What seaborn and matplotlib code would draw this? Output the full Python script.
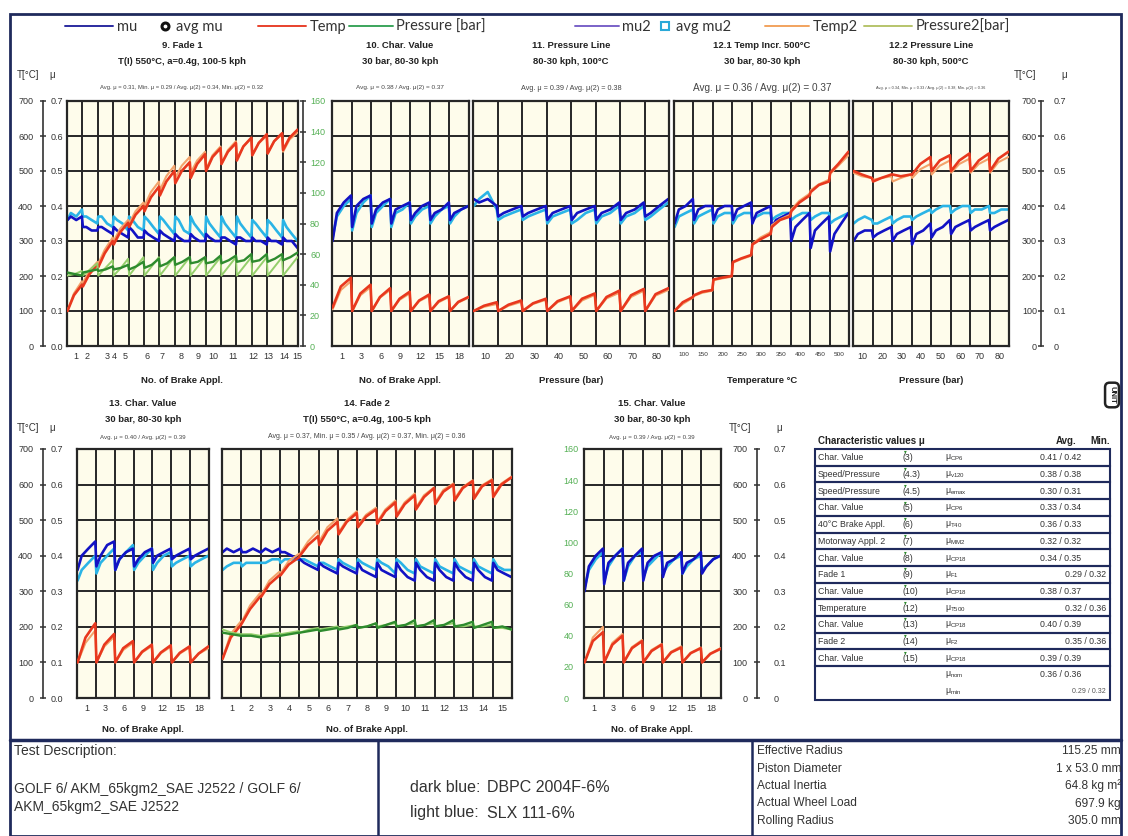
import numpy as np
import pandas as pd
import matplotlib
matplotlib.use("Agg")
import matplotlib.pyplot as plt
import seaborn as sns
from matplotlib.lines import Line2D
from matplotlib.patches import Rectangle

# ---------------------------------------------------------------- data
legend_labels = ["mu", "avg mu", "Temp", "Pressure [bar]", "mu2", "avg mu2", "Temp2", "Pressure2[bar]"]

# sample positions inside one brake application (fraction of the column)
MU_FR = [0.03, 0.25, 0.6, 0.97]
T_FR = [0.03, 0.45, 0.97]
P_FR = [0.03, 0.5, 0.97]

# 9. Fade 1 (15 applications)
fade1_mu = [[0.36, 0.37, 0.36, 0.37], [0.34, 0.34, 0.33, 0.33], [0.34, 0.34, 0.33, 0.32],
            [0.34, 0.33, 0.32, 0.31], [0.34, 0.33, 0.31, 0.31], [0.33, 0.32, 0.31, 0.30],
            [0.33, 0.32, 0.31, 0.30], [0.32, 0.31, 0.30, 0.30], [0.32, 0.31, 0.30, 0.30],
            [0.32, 0.31, 0.30, 0.30], [0.31, 0.31, 0.30, 0.29], [0.31, 0.31, 0.30, 0.30],
            [0.31, 0.30, 0.30, 0.29], [0.31, 0.30, 0.30, 0.29], [0.31, 0.30, 0.30, 0.28]]
fade1_mu2 = [[0.36, 0.38, 0.37, 0.39], [0.37, 0.37, 0.36, 0.35], [0.37, 0.37, 0.35, 0.34],
             [0.37, 0.36, 0.35, 0.33], [0.37, 0.36, 0.34, 0.33], [0.37, 0.36, 0.34, 0.32],
             [0.37, 0.36, 0.34, 0.32], [0.37, 0.36, 0.33, 0.32], [0.37, 0.35, 0.33, 0.31],
             [0.37, 0.35, 0.33, 0.31], [0.37, 0.35, 0.33, 0.31], [0.37, 0.35, 0.33, 0.31],
             [0.36, 0.35, 0.33, 0.31], [0.36, 0.35, 0.33, 0.31], [0.36, 0.34, 0.32, 0.30]]
fade1_t = [[100, 145, 175], [170, 205, 232], [225, 265, 300], [290, 325, 352], [340, 375, 400],
           [385, 425, 455], [430, 470, 500], [465, 500, 525], [480, 520, 548], [500, 540, 565],
           [520, 555, 580], [530, 570, 595], [545, 580, 605], [550, 585, 608], [560, 595, 618]]
fade1_t2 = [[100, 150, 185], [180, 215, 240], [235, 275, 310], [300, 335, 360], [350, 385, 410],
            [400, 440, 470], [445, 485, 515], [480, 515, 540], [495, 530, 555], [505, 545, 570],
            [520, 560, 585], [535, 570, 595], [545, 580, 600], [550, 585, 605], [555, 590, 610]]
fade1_p = [[48, 47, 46], [48, 49, 50], [49, 50, 52], [50, 51, 53], [50, 52, 55], [51, 53, 57],
           [52, 54, 58], [53, 55, 58], [54, 55, 58], [54, 55, 59], [54, 56, 59], [55, 56, 60],
           [55, 56, 60], [55, 57, 60], [56, 58, 61]]
fade1_p2 = [[46, 47, 49], [46, 50, 54], [46, 51, 56], [46, 51, 57], [46, 52, 58], [46, 52, 58],
            [46, 52, 58], [46, 52, 58], [46, 52, 58], [46, 52, 58], [46, 52, 58], [46, 52, 58],
            [46, 52, 58], [46, 52, 58], [46, 52, 58]]

# 10. Char. Value (7 groups)
cv10_mu = [[0.30, 0.38, 0.41, 0.43], [0.34, 0.40, 0.42, 0.43], [0.35, 0.39, 0.41, 0.42],
           [0.35, 0.39, 0.40, 0.41], [0.36, 0.38, 0.40, 0.41], [0.36, 0.38, 0.39, 0.41],
           [0.36, 0.38, 0.39, 0.40]]
cv10_mu2 = [[0.31, 0.37, 0.40, 0.42], [0.33, 0.38, 0.41, 0.43], [0.34, 0.38, 0.40, 0.42],
            [0.34, 0.38, 0.39, 0.41], [0.35, 0.37, 0.39, 0.40], [0.35, 0.37, 0.39, 0.40],
            [0.35, 0.37, 0.39, 0.40]]
cv10_t = [[110, 170, 195], [100, 150, 175], [100, 140, 165], [100, 135, 155], [100, 130, 147],
          [100, 128, 142], [100, 126, 140]]
cv10_t2 = [[105, 160, 185], [100, 145, 168], [100, 138, 160], [100, 132, 150], [100, 128, 143],
           [100, 125, 140], [100, 124, 138]]

# 11. Pressure Line (8 groups)
pl11_mu = [[0.42, 0.41, 0.42, 0.40], [0.37, 0.38, 0.39, 0.40], [0.37, 0.38, 0.39, 0.40],
           [0.36, 0.38, 0.39, 0.40], [0.36, 0.38, 0.39, 0.40], [0.36, 0.38, 0.39, 0.41],
           [0.36, 0.38, 0.39, 0.41], [0.37, 0.38, 0.40, 0.42]]
pl11_mu2 = [[0.40, 0.42, 0.44, 0.39], [0.36, 0.37, 0.38, 0.39], [0.36, 0.37, 0.38, 0.39],
            [0.35, 0.37, 0.38, 0.39], [0.35, 0.36, 0.38, 0.39], [0.35, 0.37, 0.38, 0.40],
            [0.35, 0.37, 0.38, 0.40], [0.36, 0.37, 0.39, 0.41]]
pl11_t = [[100, 115, 125], [100, 118, 130], [100, 122, 135], [100, 128, 142], [100, 135, 150],
          [100, 140, 158], [100, 145, 163], [100, 148, 165]]
pl11_t2 = [[100, 112, 120], [100, 115, 126], [100, 120, 132], [100, 125, 140], [100, 130, 146],
           [100, 136, 152], [100, 140, 158], [100, 144, 160]]

# 12.1 Temp Incr. (9 groups)
ti_mu = [[0.35, 0.39, 0.40, 0.42], [0.36, 0.39, 0.40, 0.40], [0.36, 0.39, 0.40, 0.40],
         [0.36, 0.39, 0.40, 0.41], [0.35, 0.38, 0.39, 0.40], [0.34, 0.36, 0.37, 0.38],
         [0.30, 0.34, 0.36, 0.38], [0.28, 0.33, 0.35, 0.37], [0.27, 0.32, 0.35, 0.38]]
ti_mu2 = [[0.34, 0.37, 0.38, 0.39], [0.35, 0.37, 0.38, 0.39], [0.35, 0.37, 0.38, 0.38],
          [0.35, 0.37, 0.38, 0.38], [0.36, 0.37, 0.38, 0.38], [0.36, 0.37, 0.38, 0.38],
          [0.36, 0.37, 0.38, 0.38], [0.36, 0.37, 0.38, 0.38], [0.35, 0.36, 0.37, 0.38]]
ti_t = [[100, 125, 140], [145, 155, 160], [190, 195, 200], [240, 250, 260], [290, 305, 320],
        [340, 360, 370], [385, 410, 430], [440, 460, 470], [495, 520, 555]]
ti_t2 = [[100, 120, 138], [143, 152, 158], [188, 193, 198], [238, 248, 258], [292, 310, 325],
         [345, 362, 375], [390, 415, 435], [445, 462, 475], [492, 515, 545]]

# 12.2 Pressure Line (8 groups)
pl122_mu = [[0.30, 0.32, 0.33, 0.33], [0.31, 0.32, 0.33, 0.34], [0.30, 0.32, 0.33, 0.34],
            [0.29, 0.32, 0.33, 0.35], [0.31, 0.33, 0.34, 0.36], [0.32, 0.34, 0.35, 0.36],
            [0.33, 0.34, 0.35, 0.36], [0.33, 0.34, 0.35, 0.36]]
pl122_mu2 = [[0.35, 0.36, 0.37, 0.36], [0.35, 0.35, 0.36, 0.37], [0.35, 0.36, 0.37, 0.37],
             [0.36, 0.37, 0.38, 0.39], [0.38, 0.39, 0.40, 0.40], [0.38, 0.39, 0.40, 0.40],
             [0.38, 0.39, 0.39, 0.40], [0.38, 0.38, 0.39, 0.39]]
pl122_t = [[500, 490, 480], [470, 480, 490], [490, 485, 490], [490, 520, 540], [500, 530, 545],
           [500, 530, 550], [500, 530, 550], [500, 535, 555]]
pl122_t2 = [[495, 485, 480], [475, 480, 485], [470, 480, 490], [480, 505, 520], [490, 515, 530],
            [495, 520, 535], [495, 520, 535], [495, 525, 540]]

# 13. Char. Value (7 groups)
cv13_mu = [[0.36, 0.40, 0.42, 0.44], [0.37, 0.40, 0.43, 0.44], [0.36, 0.39, 0.41, 0.42],
           [0.37, 0.39, 0.41, 0.42], [0.38, 0.40, 0.41, 0.42], [0.39, 0.40, 0.41, 0.42],
           [0.39, 0.40, 0.41, 0.42]]
cv13_mu2 = [[0.33, 0.36, 0.38, 0.40], [0.35, 0.38, 0.40, 0.42], [0.36, 0.39, 0.41, 0.43],
            [0.36, 0.38, 0.40, 0.42], [0.36, 0.38, 0.40, 0.41], [0.37, 0.38, 0.39, 0.40],
            [0.37, 0.38, 0.39, 0.40]]
cv13_t = [[100, 170, 210], [100, 150, 180], [100, 140, 160], [100, 130, 150], [100, 128, 148],
          [100, 127, 145], [100, 125, 145]]
cv13_t2 = [[100, 155, 190], [100, 145, 172], [100, 135, 155], [100, 128, 146], [100, 126, 144],
           [100, 125, 142], [100, 124, 140]]

# 14. Fade 2 (15 applications)
fade2_mu = [[0.41, 0.42, 0.41, 0.42], [0.41, 0.41, 0.42, 0.41], [0.41, 0.42, 0.41, 0.42],
            [0.41, 0.41, 0.40, 0.39], [0.39, 0.38, 0.37, 0.36], [0.38, 0.37, 0.36, 0.35],
            [0.38, 0.37, 0.36, 0.35], [0.38, 0.36, 0.35, 0.34], [0.38, 0.36, 0.35, 0.34],
            [0.38, 0.36, 0.34, 0.33], [0.38, 0.36, 0.34, 0.33], [0.38, 0.36, 0.34, 0.33],
            [0.38, 0.36, 0.34, 0.33], [0.38, 0.36, 0.34, 0.33], [0.38, 0.36, 0.35, 0.34]]
fade2_mu2 = [[0.36, 0.37, 0.38, 0.38], [0.37, 0.38, 0.38, 0.38], [0.38, 0.38, 0.39, 0.39],
             [0.38, 0.39, 0.39, 0.39], [0.39, 0.39, 0.38, 0.37], [0.38, 0.38, 0.37, 0.36],
             [0.39, 0.38, 0.37, 0.36], [0.39, 0.38, 0.37, 0.36], [0.39, 0.38, 0.37, 0.35],
             [0.39, 0.38, 0.36, 0.35], [0.39, 0.37, 0.36, 0.35], [0.39, 0.37, 0.36, 0.35],
             [0.39, 0.37, 0.36, 0.35], [0.39, 0.37, 0.36, 0.35], [0.39, 0.37, 0.36, 0.36]]
fade2_t = [[110, 170, 205], [210, 250, 285], [285, 320, 345], [345, 375, 395], [400, 430, 455],
           [430, 470, 495], [460, 495, 520], [480, 510, 530], [490, 525, 550], [510, 545, 570],
           [530, 565, 590], [545, 580, 600], [555, 590, 610], [560, 595, 612], [565, 600, 620]]
fade2_t2 = [[110, 180, 215], [215, 260, 295], [290, 330, 355], [350, 385, 405], [405, 440, 470],
            [440, 480, 505], [465, 500, 525], [485, 515, 535], [495, 530, 555], [515, 550, 575],
            [535, 570, 592], [550, 585, 603], [560, 593, 612], [565, 598, 615], [570, 603, 622]]
fade2_p = [[42, 41, 40], [40, 40, 39], [39, 40, 40], [40, 41, 42], [42, 43, 44], [43, 44, 45],
           [44, 45, 47], [45, 46, 48], [45, 47, 49], [46, 47, 50], [46, 47, 50], [46, 47, 50],
           [46, 47, 49], [45, 47, 49], [45, 46, 44]]
fade2_p2 = [[44, 42, 41], [41, 41, 40], [40, 41, 42], [41, 42, 43], [42, 44, 45], [44, 45, 46],
            [45, 46, 47], [45, 46, 48], [46, 47, 48], [46, 47, 48], [46, 47, 48], [46, 47, 48],
            [46, 46, 47], [46, 46, 47], [45, 45, 44]]

# 15. Char. Value (7 groups)
cv15_mu = [[0.30, 0.37, 0.40, 0.42], [0.32, 0.38, 0.40, 0.42], [0.33, 0.38, 0.40, 0.42],
           [0.33, 0.38, 0.40, 0.41], [0.34, 0.38, 0.39, 0.41], [0.35, 0.38, 0.39, 0.41],
           [0.35, 0.37, 0.39, 0.40]]
cv15_mu2 = [[0.31, 0.36, 0.39, 0.41], [0.33, 0.37, 0.40, 0.42], [0.33, 0.37, 0.40, 0.41],
            [0.34, 0.37, 0.39, 0.41], [0.35, 0.37, 0.39, 0.40], [0.35, 0.37, 0.39, 0.40],
            [0.36, 0.37, 0.39, 0.40]]
cv15_t = [[100, 160, 185], [100, 150, 175], [100, 140, 160], [100, 132, 150], [100, 128, 142],
          [100, 126, 140], [100, 124, 138]]
cv15_t2 = [[100, 170, 200], [100, 155, 180], [100, 143, 163], [100, 135, 152], [100, 130, 145],
           [100, 127, 142], [100, 125, 140]]

# tick labels
fade_labels = ["1", "2", "3", "4", "5", "6", "7", "8", "9", "10", "11", "12", "13", "14", "15"]
appl_labels = ["1", "3", "6", "9", "12", "15", "18"]
press_labels = ["10", "20", "30", "40", "50", "60", "70", "80"]
temp_labels = ["100", "150", "200", "250", "300", "350", "400", "450", "500"]
mu_ticks = [0.0, 0.1, 0.2, 0.3, 0.4, 0.5, 0.6, 0.7]
mu_labels_l = ["0.0", "0.1", "0.2", "0.3", "0.4", "0.5", "0.6", "0.7"]
mu_labels_r = ["0", "0.1", "0.2", "0.3", "0.4", "0.5", "0.6", "0.7"]
t_ticks = [0, 100, 200, 300, 400, 500, 600, 700]
t_labels = ["0", "100", "200", "300", "400", "500", "600", "700"]
p_ticks = [0, 20, 40, 60, 80, 100, 120, 140, 160]
p_labels = ["0", "20", "40", "60", "80", "100", "120", "140", "160"]

# characteristic values table
tab_names = ["Char. Value", "Speed/Pressure", "Speed/Pressure", "Char. Value", "40°C Brake Appl.",
             "Motorway Appl. 2", "Char. Value", "Fade 1", "Char. Value", "Temperature",
             "Char. Value", "Fade 2", "Char. Value"]
tab_refs = ["(3)", "(4.3)", "(4.5)", "(5)", "(6)", "(7)", "(8)", "(9)", "(10)", "(12)", "(13)", "(14)", "(15)"]
tab_subs = ["CP6", "v120", "emax", "CP6", "T40", "MM2", "CP18", "F1", "CP18", "T500", "CP18", "F2", "CP18"]
tab_avg = [0.41, 0.38, 0.30, 0.33, 0.36, 0.32, 0.34, 0.29, 0.38, 0.32, 0.40, 0.35, 0.39]
tab_min = [0.42, 0.38, 0.31, 0.34, 0.33, 0.32, 0.35, 0.32, 0.37, 0.36, 0.39, 0.36, 0.39]
tab_right = [False, False, False, False, False, False, False, True, False, True, False, True, False]
mu_nom = [0.36, 0.36]
mu_min = [0.29, 0.32]

spec_names = ["Effective Radius", "Piston Diameter", "Actual Inertia", "Actual Wheel Load", "Rolling Radius"]
spec_values = ["115.25 mm", "1 x 53.0 mm", "64.8 kg m²", "697.9 kg", "305.0 mm"]

# ---------------------------------------------------------------- style
sns.set_style("white")
plt.rcParams["font.family"] = ["Liberation Sans", "DejaVu Sans"]
plt.rcParams["mathtext.fontset"] = "custom"
plt.rcParams["mathtext.rm"] = "Liberation Sans"
plt.rcParams["mathtext.it"] = "Liberation Sans"

C_MU = "#1212C4"
C_MU2 = "#2AB4E6"
C_T = "#E8381E"
C_T2 = "#F3A36B"
C_P = "#2E8B2E"
C_P2 = "#95CF6C"
C_GREEN_LBL = "#55B055"
NAVY = "#1F2A5C"
GRID = "#262626"
BG = "#FEFCEB"

W, H = 1128, 836
fig = plt.figure(figsize=(W / 100, H / 100), dpi=100)
fig.patch.set_facecolor("white")


def ftext(x, y, s, **kw):
    kw.setdefault("va", "center")
    return fig.text(x / W, 1 - y / H, s, **kw)


def cycles_df(cycles, fracs):
    rows = []
    for i, cyc in enumerate(cycles):
        for f, v in zip(fracs, cyc):
            rows.append((i + f, v))
    return pd.DataFrame(rows, columns=["x", "v"])


def draw(ax, cycles, fracs, color, lw=1.9):
    sns.lineplot(data=cycles_df(cycles, fracs), x="x", y="v", ax=ax, color=color,
                 lw=lw, estimator=None, sort=False)
    ax.set_xlabel("")
    ax.set_ylabel("")


def panel(box, ncols, tick_pos, tick_labels, tick_fs=6.5, mu_pad=None):
    x0, y0, x1, y1 = box
    ax = fig.add_axes([x0 / W, 1 - y1 / H, (x1 - x0) / W, (y1 - y0) / H])
    ax.set_facecolor(BG)
    ax.set_xlim(0, ncols)
    ax.set_ylim(0, 0.7)
    ax.set_xticks(list(range(ncols + 1)), minor=True)
    ax.set_xticks(tick_pos)
    ax.set_xticklabels(tick_labels, fontsize=tick_fs, color="#333333")
    ax.set_yticks(mu_ticks)
    ax.grid(False)
    ax.grid(which="minor", axis="x", color=GRID, lw=1.4)
    ax.grid(which="major", axis="y", color=GRID, lw=1.4)
    ax.tick_params(axis="x", which="both", length=0, pad=4)
    ax.tick_params(axis="y", length=0)
    if mu_pad is None:
        ax.set_yticklabels([])
    else:
        ax.set_yticklabels(mu_labels_l, fontsize=6.5, color="#333333")
        ax.tick_params(axis="y", pad=mu_pad)
    for s in ax.spines.values():
        s.set_visible(True)
        s.set_color(GRID)
        s.set_linewidth(1.6)
    return ax


def twin(ax, top):
    t = ax.twinx()
    t.set_ylim(0, top)
    t.set_axis_off()
    return t


def strip(xpx, y0, y1, top, ticks, labels, side, spine=True, pad=4, color="#333333", fs=6.5):
    a = fig.add_axes([xpx / W, 1 - y1 / H, 0.0001, (y1 - y0) / H])
    a.set_ylim(0, top)
    a.set_xticks([])
    a.patch.set_alpha(0)
    for s in a.spines.values():
        s.set_visible(False)
    if side == "left":
        a.yaxis.tick_left()
    else:
        a.yaxis.tick_right()
    a.set_yticks(ticks)
    a.set_yticklabels(labels, fontsize=fs)
    if spine:
        a.spines[side].set_visible(True)
        a.spines[side].set_color("#333333")
        a.spines[side].set_linewidth(1.2)
        a.tick_params(axis="y", direction="inout", length=4, width=1.1, pad=pad,
                      colors="#333333", labelcolor=color)
    else:
        a.tick_params(axis="y", length=0, pad=pad, labelcolor=color)
    return a


def fill_panel(ax, mu, mu2, t, t2, p=None, p2=None):
    draw(ax, mu2, MU_FR, C_MU2)
    draw(ax, mu, MU_FR, C_MU)
    at = twin(ax, 700)
    draw(at, t2, T_FR, C_T2, lw=1.5)
    draw(at, t, T_FR, C_T)
    if p is not None:
        ap = twin(ax, 160)
        draw(ap, p2, P_FR, C_P2, lw=1.4)
        draw(ap, p, P_FR, C_P, lw=1.7)


# ---------------------------------------------------------------- panels (pixel boxes)
P9 = (67, 101, 298, 346)
P10 = (332, 101, 469, 346)
P11 = (473, 101, 669, 346)
P121 = (674, 101, 849, 346)
P122 = (853, 101, 1009, 346)
P13 = (77, 449, 209, 698)
P14 = (222, 449, 512, 698)
P15 = (584, 449, 721, 698)

fade1_tickpos = [0.6, 1.3, 2.6, 3.1, 3.8, 5.2, 6.2, 7.4, 8.5, 9.5, 10.8, 12.1, 13.1, 14.1, 14.95]
half7 = [0.5, 1.5, 2.5, 3.5, 4.5, 5.5, 6.5]
half8 = [0.5, 1.5, 2.5, 3.5, 4.5, 5.5, 6.5, 7.5]
half9 = [0.5, 1.5, 2.5, 3.5, 4.5, 5.5, 6.5, 7.5, 8.5]
half15 = [0.5, 1.5, 2.5, 3.5, 4.5, 5.5, 6.5, 7.5, 8.5, 9.5, 10.5, 11.5, 12.5, 13.5, 14.5]

ax9 = panel(P9, 15, fade1_tickpos, fade_labels, mu_pad=3)
fill_panel(ax9, fade1_mu, fade1_mu2, fade1_t, fade1_t2, fade1_p, fade1_p2)
ax10 = panel(P10, 7, half7, appl_labels)
fill_panel(ax10, cv10_mu, cv10_mu2, cv10_t, cv10_t2)
ax11 = panel(P11, 8, half8, press_labels)
fill_panel(ax11, pl11_mu, pl11_mu2, pl11_t, pl11_t2)
ax121 = panel(P121, 9, half9, temp_labels, tick_fs=4.6)
fill_panel(ax121, ti_mu, ti_mu2, ti_t, ti_t2)
ax122 = panel(P122, 8, half8, press_labels)
fill_panel(ax122, pl122_mu, pl122_mu2, pl122_t, pl122_t2)
ax13 = panel(P13, 7, half7, appl_labels, mu_pad=10)
fill_panel(ax13, cv13_mu, cv13_mu2, cv13_t, cv13_t2)
ax14 = panel(P14, 15, half15, fade_labels)
fill_panel(ax14, fade2_mu, fade2_mu2, fade2_t, fade2_t2, fade2_p, fade2_p2)
ax15 = panel(P15, 7, half7, appl_labels)
fill_panel(ax15, cv15_mu, cv15_mu2, cv15_t, cv15_t2)

# value axes
strip(43, 101, 346, 700, t_ticks, t_labels, "left", pad=5)
strip(43, 449, 698, 700, t_ticks, t_labels, "left", pad=5)
strip(303, 101, 346, 160, p_ticks, p_labels, "right", pad=3, color=C_GREEN_LBL)
strip(558, 449, 698, 160, p_ticks, p_labels, "right", spine=False, pad=4, color=C_GREEN_LBL)
strip(1041, 101, 346, 700, t_ticks, t_labels, "left", pad=1)
strip(1041, 101, 346, 0.7, mu_ticks, mu_labels_r, "right", spine=False, pad=9)
strip(757, 449, 698, 700, t_ticks, t_labels, "left", pad=5)
strip(757, 449, 698, 0.7, mu_ticks, mu_labels_r, "right", spine=False, pad=12)

# axis unit headers
for (xt, xm, y) in [(28, 52, 75), (28, 52, 428), (1025, 1064, 75), (740, 779, 428)]:
    ftext(xt, y, "T[°C]", ha="center", fontsize=7, color="#333333")
    ftext(xm, y, "μ", ha="center", fontsize=7, color="#333333")

# ---------------------------------------------------------------- titles
TB = dict(ha="center", fontsize=6.8, fontweight="bold", color="#222222")
top_titles = [
    (182, "9. Fade 1", "T(I) 550°C, a=0.4g, 100-5 kph",
     "Avg. μ = 0.31, Min. μ = 0.29 / Avg. μ(2) = 0.34, Min. μ(2) = 0.32", 4.2),
    (400, "10. Char. Value", "30 bar, 80-30 kph", "Avg. μ = 0.38 / Avg. μ(2) = 0.37", 4.6),
    (571, "11. Pressure Line", "80-30 kph, 100°C", "Avg. μ = 0.39 / Avg. μ(2) = 0.38", 5.2),
    (762, "12.1 Temp Incr. 500°C", "30 bar, 80-30 kph", "Avg. μ = 0.36 / Avg. μ(2) = 0.37", 7.2),
    (931, "12.2 Pressure Line", "80-30 kph, 500°C",
     "Avg. μ = 0.34, Min. μ = 0.33 / Avg. μ(2) = 0.38, Min. μ(2) = 0.36", 2.8),
]
for cx, t1, t2, t3, fs in top_titles:
    ftext(cx, 46, t1, **TB)
    ftext(cx, 62, t2, **TB)
    ftext(cx, 88, t3, ha="center", fontsize=fs, color="#444444")

bot_titles = [
    (143, "13. Char. Value", "30 bar, 80-30 kph", "Avg. μ = 0.40 / Avg. μ(2) = 0.39", 4.4),
    (367, "14. Fade 2", "T(I) 550°C, a=0.4g, 100-5 kph",
     "Avg. μ = 0.37, Min. μ = 0.35 / Avg. μ(2) = 0.37, Min. μ(2) = 0.36", 5.0),
    (652, "15. Char. Value", "30 bar, 80-30 kph", "Avg. μ = 0.39 / Avg. μ(2) = 0.39", 4.4),
]
for cx, t1, t2, t3, fs in bot_titles:
    ftext(cx, 404, t1, **TB)
    ftext(cx, 420, t2, **TB)
    ftext(cx, 437, t3, ha="center", fontsize=fs, color="#444444")

for cx, y, s in [(182, 380, "No. of Brake Appl."), (400, 380, "No. of Brake Appl."),
                 (571, 380, "Pressure (bar)"), (762, 380, "Temperature °C"),
                 (931, 380, "Pressure (bar)"), (143, 729, "No. of Brake Appl."),
                 (367, 729, "No. of Brake Appl."), (652, 729, "No. of Brake Appl.")]:
    ftext(cx, y, s, **TB)

# ---------------------------------------------------------------- legend
handles = [
    Line2D([], [], color="#2B2BA0", lw=1.4),
    Line2D([], [], ls="none", marker="o", mfc="none", mec="#111111", mew=2.2, ms=5),
    Line2D([], [], color="#E8412C", lw=1.4),
    Line2D([], [], color="#3BA55C", lw=1.4),
    Line2D([], [], color="#7A62C8", lw=1.4),
    Line2D([], [], ls="none", marker="s", mfc="none", mec="#2AA9D8", mew=1.5, ms=5.5),
    Line2D([], [], color="#F2A35E", lw=1.4),
    Line2D([], [], color="#B7C46B", lw=1.4),
]
leg_x = [65, 158, 258, 349, 575, 658, 765, 864]
leg_len = [3.3, 1.0, 3.3, 3.0, 3.0, 1.0, 3.0, 3.3]
for h, lab, x, hl in zip(handles, legend_labels, leg_x, leg_len):
    fig.legend([h], [lab], loc="center left", bbox_to_anchor=(x / W, 1 - 27 / H),
               frameon=False, borderpad=0, borderaxespad=0, handlelength=hl,
               handletextpad=0.25, prop={"family": ["Lato", "DejaVu Sans"], "size": 10.5},
               labelcolor="#333333")

# ---------------------------------------------------------------- frames
fig.add_artist(Rectangle((10 / W, 0), 1111 / W, 1 - 14 / H, transform=fig.transFigure,
                         fill=False, ec=NAVY, lw=2))
fig.add_artist(Line2D([10 / W, 1121 / W], [1 - 740 / H] * 2, transform=fig.transFigure,
                      color=NAVY, lw=2.5))
for xv in (378, 752):
    fig.add_artist(Line2D([xv / W] * 2, [0, 1 - 740 / H], transform=fig.transFigure,
                          color=NAVY, lw=1.8))

# UNIT badge
ftext(1112, 395, "UNIT", ha="center", rotation=270, fontsize=5.5, fontweight="bold",
      color="#222222", bbox=dict(boxstyle="round,pad=0.45,rounding_size=0.6", fc="white",
                                 ec="#222222", lw=1.8))

# ---------------------------------------------------------------- table
TX = 815
TW = 295
RH = 16.7
TY = 449
ftext(818, 441, "Characteristic values μ", ha="left", fontsize=7, fontweight="bold", color="#222222")
ftext(1066, 441, "Avg.", ha="center", fontsize=7, fontweight="bold", color="#222222")
ftext(1100, 441, "Min.", ha="center", fontsize=7, fontweight="bold", color="#222222")
for i, (nm, rf, sb, av, mn, rt) in enumerate(zip(tab_names, tab_refs, tab_subs, tab_avg, tab_min, tab_right)):
    top = TY + i * RH
    fig.add_artist(Rectangle((TX / W, 1 - (top + RH) / H), TW / W, RH / H, transform=fig.transFigure,
                             fill=False, ec=NAVY, lw=1.5))
    yc = top + RH / 2 + 0.5
    ftext(818, yc, nm, ha="left", fontsize=6.3, color="#333333")
    ftext(903, yc, rf, ha="left", fontsize=6.3, color="#333333")
    ftext(905, top + 3, "▾", ha="center", fontsize=4, color="#2E8B2E")
    ftext(945, yc, r"$\mu_{\mathrm{%s}}$" % sb, ha="left", fontsize=6.3, color="#333333")
    val = f"{av:.2f} / {mn:.2f}"
    if rt:
        ftext(1106, yc, val, ha="right", fontsize=6.3, color="#333333")
    else:
        ftext(1040, yc, val, ha="left", fontsize=6.3, color="#333333")
top = TY + 13 * RH
fig.add_artist(Rectangle((TX / W, 1 - (top + 2 * RH) / H), TW / W, 2 * RH / H,
                         transform=fig.transFigure, fill=False, ec=NAVY, lw=1.5))
ftext(945, top + RH / 2, r"$\mu_{\mathrm{nom}}$", ha="left", fontsize=6.3, color="#333333")
ftext(1040, top + RH / 2, f"{mu_nom[0]:.2f} / {mu_nom[1]:.2f}", ha="left", fontsize=6.3, color="#333333")
ftext(945, top + 1.5 * RH, r"$\mu_{\mathrm{min}}$", ha="left", fontsize=6.3, color="#333333")
ftext(1106, top + 1.5 * RH, f"{mu_min[0]:.2f} / {mu_min[1]:.2f}", ha="right", fontsize=5, color="#555555")

# ---------------------------------------------------------------- bottom boxes
BF = ["Liberation Sans", "DejaVu Sans"]
ftext(14, 751, "Test Description:", ha="left", fontsize=10, family=BF, color="#333333")
ftext(14, 789, "GOLF 6/ AKM_65kgm2_SAE J2522 / GOLF 6/", ha="left", fontsize=10, family=BF, color="#333333")
ftext(14, 807, "AKM_65kgm2_SAE J2522", ha="left", fontsize=10, family=BF, color="#333333")
ftext(410, 788, "dark blue:", ha="left", fontsize=11.5, family=BF, color="#333333")
ftext(487, 788, "DBPC 2004F-6%", ha="left", fontsize=11.5, family=BF, color="#333333")
ftext(410, 813, "light blue:", ha="left", fontsize=11.5, family=BF, color="#333333")
ftext(487, 813, "SLX 111-6%", ha="left", fontsize=11.5, family=BF, color="#333333")
for k, (nm, val) in enumerate(zip(spec_names, spec_values)):
    yy = 751 + k * 17.5
    ftext(757, yy, nm, ha="left", fontsize=8.6, family=BF, color="#333333")
    ftext(1121, yy, val, ha="right", fontsize=8.6, family=BF, color="#333333")

fig.savefig("out.png", dpi=100, facecolor="white")
